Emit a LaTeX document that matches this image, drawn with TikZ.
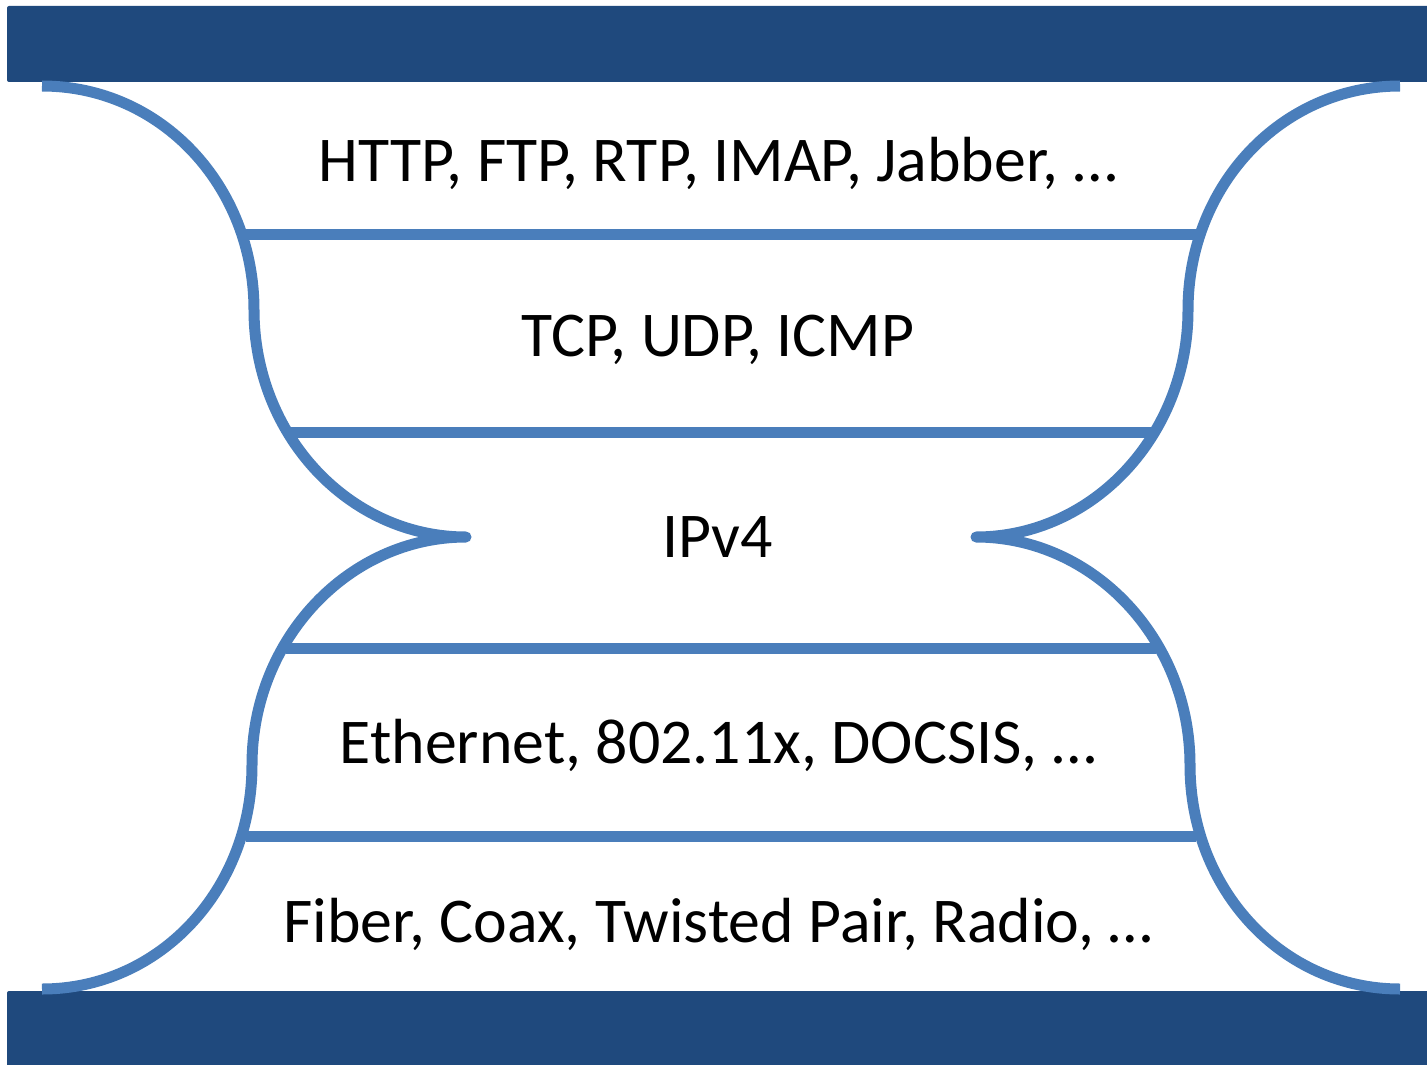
\documentclass[tikz,border=0pt]{standalone}
\usepackage{fontspec}
\setmainfont{Carlito}
\definecolor{barblue}{HTML}{1F497D}
\definecolor{lineblue}{HTML}{4A7EBB}
\begin{document}
\begin{tikzpicture}[x=0.5pt,y=-0.5pt,
  bar/.style={fill=barblue, draw=none, rounded corners=1pt},
  glass/.style={draw=lineblue, line width=5.5pt, line join=round, line cap=butt},
  layer/.style={draw=lineblue, line width=5.5pt},
  lbl/.style={anchor=base, inner sep=0pt, font=\fontsize{31.9pt}{36pt}\selectfont}]
\useasboundingbox (0,0) rectangle (1427,1064);
\clip (0,0) rectangle (1427,1064);
% bars
\path[bar] (7,6) rectangle (1440,82);
\path[bar] (7,991) rectangle (1440,1075);
% left outline
\draw[glass] (42,86) .. controls (161,86) and (254,186) .. (254,310)
  .. controls (254,435) and (349,537) .. (466,537)
  .. controls (349,537) and (252,639) .. (252,765)
  .. controls (252,889) and (160,989) .. (42,989);
% right outline
\draw[glass] (1400,86) .. controls (1281,86) and (1188,186) .. (1188,310)
  .. controls (1188,435) and (1093,537) .. (976,537)
  .. controls (1093,537) and (1190,639) .. (1190,765)
  .. controls (1190,889) and (1282,989) .. (1400,989);
% layer separators
\draw[layer] (245,234) -- (1197,234);
\draw[layer] (288,432) -- (1154,432);
\draw[layer] (286,648) -- (1156,648);
\draw[layer] (246,836) -- (1196,836);
% labels
\node[lbl] (app) at (718,182) {HTTP, FTP, RTP, IMAP, Jabber, …};
\node[lbl] (trans) at (718,356) {TCP, UDP, ICMP};
\node[lbl] (net) at (718,557) {IPv4};
\node[lbl] (link) at (718,763) {Ethernet, 802.11x, DOCSIS, …};
\node[lbl] (phys) at (718,942) {Fiber, Coax, Twisted Pair, Radio, …};
\end{tikzpicture}
\end{document}
